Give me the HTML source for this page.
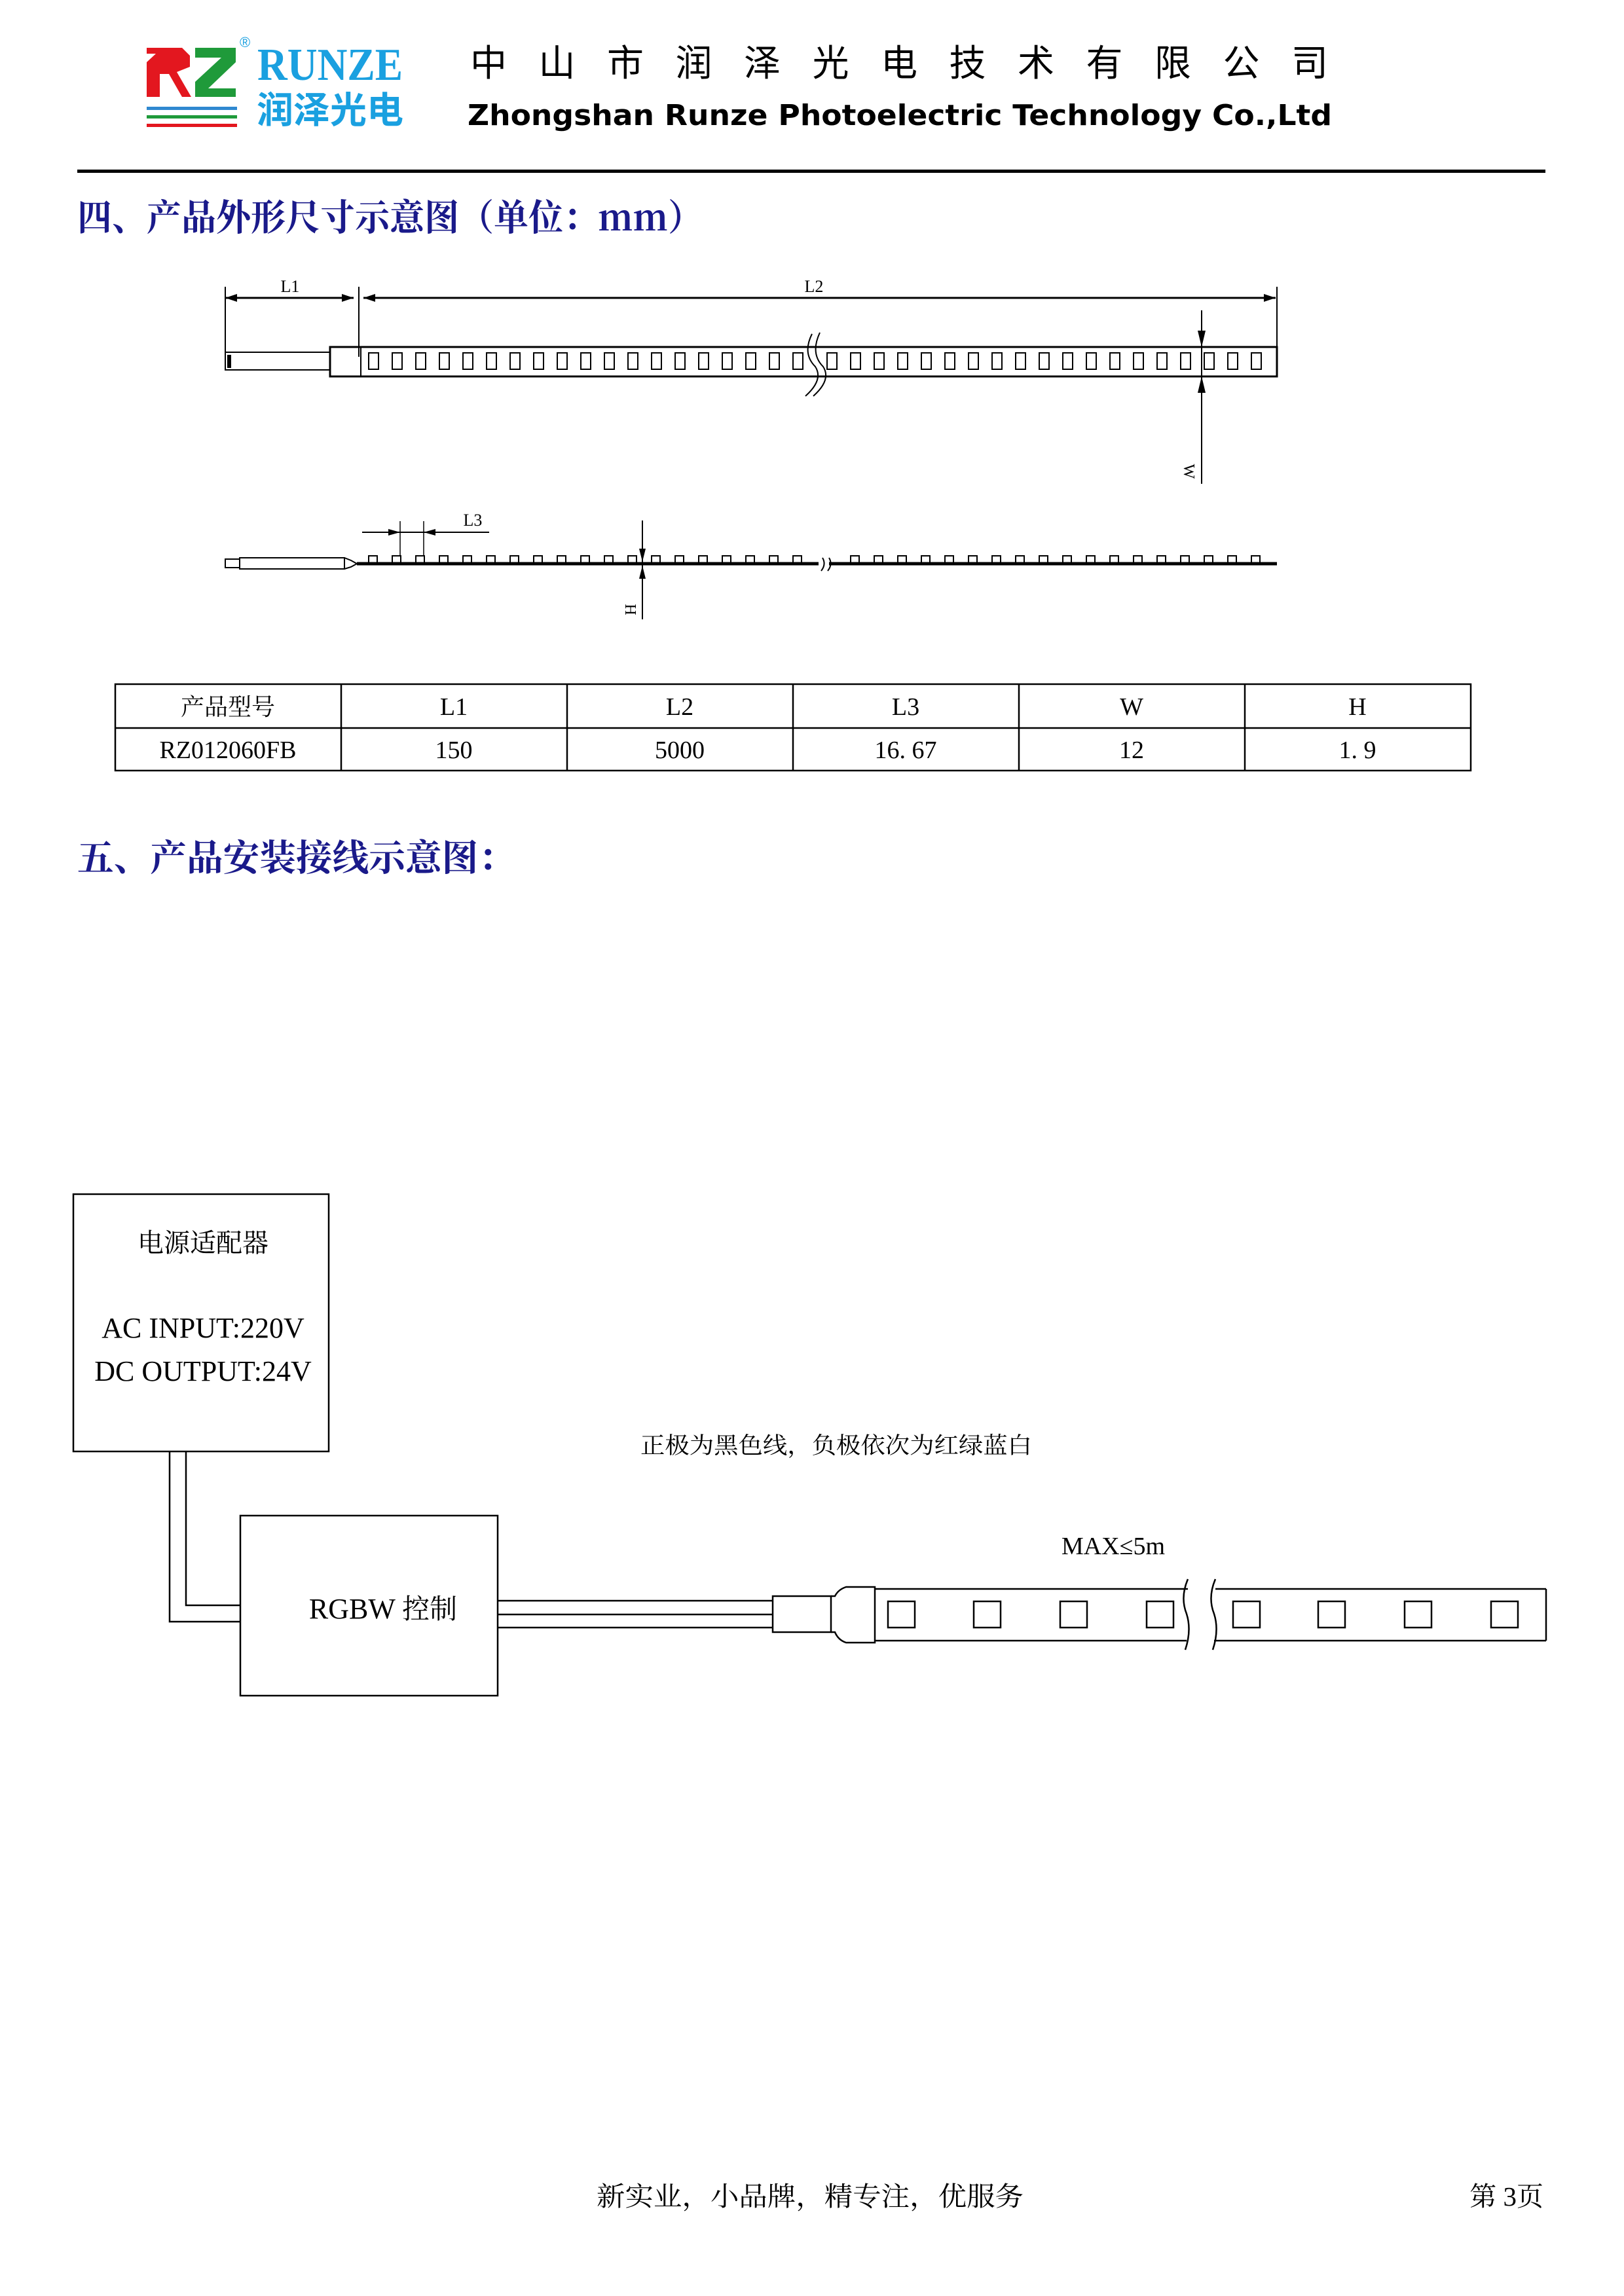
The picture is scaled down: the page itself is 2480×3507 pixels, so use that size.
<!DOCTYPE html>
<html><head><meta charset="utf-8"><style>
html,body{margin:0;padding:0;background:#fff;}
body{width:2480px;height:3507px;position:relative;overflow:hidden;}
svg{position:absolute;left:0;top:0;}
</style></head><body>
<svg width="2480" height="3507" viewBox="0 0 2480 3507" xmlns="http://www.w3.org/2000/svg">
<!-- Logo -->
<g>
 <polygon points="224,73 278,73 290,85 290,102 270,110 292,148 278,148 258,113 244,113 244,148 224,148 224,95 238,82 224,82" fill="#e3171f"/>
 <polygon points="298,73 360,73 360,95 318,135 360,135 360,148 298,148 298,125 338,88 298,88" fill="#1f9a3a"/>
 <rect x="224" y="163" width="138" height="5" fill="#2f88d0"/>
 <rect x="224" y="176" width="138" height="5" fill="#1f9a3a"/>
 <rect x="224" y="189" width="138" height="5" fill="#e3171f"/>
 <text x="366" y="72" font-family="Liberation Sans,sans-serif" font-size="22" fill="#1aa0e0">®</text>
 <text x="393" y="122" font-family="Liberation Serif,serif" font-weight="bold" font-size="70" fill="#1aa0e0" textLength="222" lengthAdjust="spacingAndGlyphs">RUNZE</text>
 <text x="392" y="188" font-family="Noto Sans CJK SC,sans-serif" font-weight="bold" font-size="56" fill="#1aa0e0" textLength="224" lengthAdjust="spacingAndGlyphs">润泽光电</text>
</g>
<text x="718" y="116" font-family="Noto Sans CJK SC,sans-serif" font-size="56" fill="#000" textLength="1310" lengthAdjust="spacing">中山市润泽光电技术有限公司</text>
<text x="714" y="191" font-family="DejaVu Sans,sans-serif" font-weight="bold" font-size="44" fill="#000" textLength="1320" lengthAdjust="spacingAndGlyphs">Zhongshan Runze Photoelectric Technology Co.,Ltd</text>
<rect x="118" y="259" width="2242" height="5" fill="#000"/>
<text x="118" y="352" font-family="Noto Serif CJK SC,serif" font-weight="bold" font-size="56" fill="#1a1a8a" textLength="955" lengthAdjust="spacingAndGlyphs">四、产品外形尺寸示意图（单位：mm）</text>

<!-- Dimension drawing: top view -->
<g stroke="#000" fill="none">
 <line x1="344" y1="438" x2="344" y2="545" stroke-width="2"/>
 <line x1="548" y1="438" x2="548" y2="545" stroke-width="2"/>
 <line x1="1950" y1="438" x2="1950" y2="530" stroke-width="2"/>
 <line x1="344" y1="455" x2="540" y2="455" stroke-width="3"/>
 <line x1="555" y1="455" x2="1948" y2="455" stroke-width="3"/>
 <rect x="344" y="538" width="160" height="27" stroke-width="2"/>
 <line x1="350" y1="542" x2="350" y2="562" stroke-width="6"/>
 <rect x="504" y="530" width="1446" height="45" stroke-width="3"/>
 <line x1="551" y1="530" x2="551" y2="575" stroke-width="2"/>
 <line x1="1835" y1="474" x2="1835" y2="739" stroke-width="2"/>
</g>
<g fill="#000">
 <polygon points="344,455 362,449 362,461"/><polygon points="540,455 522,449 522,461"/>
 <polygon points="555,455 573,449 573,461"/><polygon points="1948,455 1930,449 1930,461"/>
 <polygon points="1835,530 1829,505 1841,505"/><polygon points="1835,575 1829,600 1841,600"/>
</g>
<g fill="none" stroke="#000" stroke-width="2">
 <rect x="563" y="539" width="15" height="25"/><rect x="599" y="539" width="15" height="25"/><rect x="635" y="539" width="15" height="25"/><rect x="671" y="539" width="15" height="25"/><rect x="707" y="539" width="15" height="25"/><rect x="743" y="539" width="15" height="25"/><rect x="779" y="539" width="15" height="25"/><rect x="815" y="539" width="15" height="25"/><rect x="851" y="539" width="15" height="25"/><rect x="887" y="539" width="15" height="25"/><rect x="923" y="539" width="15" height="25"/><rect x="959" y="539" width="15" height="25"/><rect x="995" y="539" width="15" height="25"/><rect x="1031" y="539" width="15" height="25"/><rect x="1067" y="539" width="15" height="25"/><rect x="1103" y="539" width="15" height="25"/><rect x="1139" y="539" width="15" height="25"/><rect x="1175" y="539" width="15" height="25"/><rect x="1211" y="539" width="15" height="25"/><rect x="1263" y="539" width="15" height="25"/><rect x="1299" y="539" width="15" height="25"/><rect x="1335" y="539" width="15" height="25"/><rect x="1371" y="539" width="15" height="25"/><rect x="1407" y="539" width="15" height="25"/><rect x="1443" y="539" width="15" height="25"/><rect x="1479" y="539" width="15" height="25"/><rect x="1515" y="539" width="15" height="25"/><rect x="1551" y="539" width="15" height="25"/><rect x="1587" y="539" width="15" height="25"/><rect x="1623" y="539" width="15" height="25"/><rect x="1659" y="539" width="15" height="25"/><rect x="1695" y="539" width="15" height="25"/><rect x="1731" y="539" width="15" height="25"/><rect x="1767" y="539" width="15" height="25"/><rect x="1803" y="539" width="15" height="25"/><rect x="1839" y="539" width="15" height="25"/><rect x="1875" y="539" width="15" height="25"/><rect x="1911" y="539" width="15" height="25"/>
</g>
<path d="M1240,510 Q1225,540 1245,560 Q1258,580 1230,605 M1252,508 Q1237,540 1257,560 Q1270,580 1242,605" stroke="#000" stroke-width="2" fill="none"/>
<text x="443" y="446" font-family="Liberation Serif,serif" font-size="26" text-anchor="middle">L1</text>
<text x="1243" y="446" font-family="Liberation Serif,serif" font-size="26" text-anchor="middle">L2</text>
<text transform="translate(1808,720) rotate(90)" font-family="Liberation Serif,serif" font-size="24" text-anchor="middle">W</text>

<!-- side view -->
<g stroke="#000" fill="none">
 <rect x="344" y="854" width="22" height="13" stroke-width="2"/>
 <rect x="366" y="852" width="160" height="17" stroke-width="2"/>
 <path d="M526,852 L536,856 L545,861 L536,866 L526,869" stroke-width="2"/>
 <line x1="545" y1="861" x2="1950" y2="861" stroke-width="5"/>
 <line x1="553" y1="813" x2="747" y2="813" stroke-width="2"/>
 <line x1="611" y1="796" x2="611" y2="850" stroke-width="1.5"/>
 <line x1="647" y1="796" x2="647" y2="850" stroke-width="1.5"/>
 <line x1="981" y1="795" x2="981" y2="946" stroke-width="2"/>
</g>
<g fill="#000">
 <polygon points="611,813 593,808 593,818"/><polygon points="647,813 665,808 665,818"/>
 <polygon points="981,858 976,838 986,838"/><polygon points="981,864 976,884 986,884"/>
</g>
<g fill="none" stroke="#000" stroke-width="2">
 <rect x="563" y="849" width="13" height="12"/><rect x="599" y="849" width="13" height="12"/><rect x="635" y="849" width="13" height="12"/><rect x="671" y="849" width="13" height="12"/><rect x="707" y="849" width="13" height="12"/><rect x="743" y="849" width="13" height="12"/><rect x="779" y="849" width="13" height="12"/><rect x="815" y="849" width="13" height="12"/><rect x="851" y="849" width="13" height="12"/><rect x="887" y="849" width="13" height="12"/><rect x="923" y="849" width="13" height="12"/><rect x="959" y="849" width="13" height="12"/><rect x="995" y="849" width="13" height="12"/><rect x="1031" y="849" width="13" height="12"/><rect x="1067" y="849" width="13" height="12"/><rect x="1103" y="849" width="13" height="12"/><rect x="1139" y="849" width="13" height="12"/><rect x="1175" y="849" width="13" height="12"/><rect x="1211" y="849" width="13" height="12"/><rect x="1299" y="849" width="13" height="12"/><rect x="1335" y="849" width="13" height="12"/><rect x="1371" y="849" width="13" height="12"/><rect x="1407" y="849" width="13" height="12"/><rect x="1443" y="849" width="13" height="12"/><rect x="1479" y="849" width="13" height="12"/><rect x="1515" y="849" width="13" height="12"/><rect x="1551" y="849" width="13" height="12"/><rect x="1587" y="849" width="13" height="12"/><rect x="1623" y="849" width="13" height="12"/><rect x="1659" y="849" width="13" height="12"/><rect x="1695" y="849" width="13" height="12"/><rect x="1731" y="849" width="13" height="12"/><rect x="1767" y="849" width="13" height="12"/><rect x="1803" y="849" width="13" height="12"/><rect x="1839" y="849" width="13" height="12"/><rect x="1875" y="849" width="13" height="12"/><rect x="1911" y="849" width="13" height="12"/>
</g>
<rect x="1250" y="850" width="16" height="22" fill="#fff"/>
<path d="M1256,852 Q1262,862 1254,872 M1266,852 Q1272,862 1264,872" stroke="#000" stroke-width="2" fill="none"/>
<text x="722" y="803" font-family="Liberation Serif,serif" font-size="26" text-anchor="middle">L3</text>
<text transform="translate(955,931) rotate(90)" font-family="Liberation Serif,serif" font-size="24" text-anchor="middle">H</text>

<!-- Table -->
<g stroke="#000" stroke-width="2.5" fill="none">
 <rect x="176" y="1045" width="2070" height="132"/>
 <line x1="176" y1="1112" x2="2246" y2="1112"/>
 <line x1="521" y1="1045" x2="521" y2="1177"/><line x1="866" y1="1045" x2="866" y2="1177"/>
 <line x1="1211" y1="1045" x2="1211" y2="1177"/><line x1="1556" y1="1045" x2="1556" y2="1177"/>
 <line x1="1901" y1="1045" x2="1901" y2="1177"/>
</g>
<g font-family="Liberation Serif,'Noto Serif CJK SC',serif" font-size="38" text-anchor="middle" fill="#000">
 <text x="348" y="1092" font-family="Noto Serif CJK SC,serif" font-size="36">产品型号</text>
 <text x="693" y="1092">L1</text><text x="1038" y="1092">L2</text><text x="1383" y="1092">L3</text>
 <text x="1728" y="1092">W</text><text x="2073" y="1092">H</text>
 <text x="348" y="1158">RZ012060FB</text><text x="693" y="1158">150</text><text x="1038" y="1158">5000</text>
 <text x="1383" y="1158">16. 67</text><text x="1728" y="1158">12</text><text x="2073" y="1158">1. 9</text>
</g>

<text x="118" y="1330" font-family="Noto Serif CJK SC,serif" font-weight="bold" font-size="56" fill="#1a1a8a" textLength="668" lengthAdjust="spacingAndGlyphs">五、产品安装接线示意图：</text>

<!-- Wiring diagram -->
<g stroke="#000" stroke-width="2.5" fill="none">
 <rect x="112" y="1824" width="390" height="393"/>
 <rect x="367" y="2315" width="393" height="275"/>
 <polyline points="259,2217 259,2477 367,2477"/>
 <polyline points="284,2217 284,2452 367,2452"/>
 <line x1="760" y1="2445" x2="1180" y2="2445"/>
 <line x1="760" y1="2466" x2="1180" y2="2466"/>
 <line x1="760" y1="2486" x2="1180" y2="2486"/>
 <rect x="1180" y="2438" width="89" height="55"/>
 <path d="M1269,2438 L1275,2438 Q1280,2428 1292,2424 L1336,2424 L1336,2509 L1292,2509 Q1280,2505 1275,2493 L1269,2493"/>
 <line x1="1336" y1="2427" x2="1814" y2="2427"/>
 <line x1="1336" y1="2506" x2="1812" y2="2506"/>
 <line x1="1856" y1="2427" x2="2361" y2="2427"/>
 <line x1="1854" y1="2506" x2="2361" y2="2506"/>
 <line x1="2361" y1="2427" x2="2361" y2="2506"/>
 <path d="M1814,2412 Q1802,2440 1812,2465 Q1820,2490 1810,2520"/>
 <path d="M1856,2412 Q1844,2440 1854,2465 Q1862,2490 1852,2520"/>
 <rect x="1356" y="2446" width="41" height="40"/><rect x="1487" y="2446" width="41" height="40"/>
 <rect x="1619" y="2446" width="41" height="40"/><rect x="1751" y="2446" width="41" height="40"/>
 <rect x="1883" y="2446" width="41" height="40"/><rect x="2013" y="2446" width="41" height="40"/>
 <rect x="2145" y="2446" width="41" height="40"/><rect x="2277" y="2446" width="41" height="40"/>
</g>
<g font-family="Liberation Serif,'Noto Serif CJK SC',serif" fill="#000" text-anchor="middle">
 <text x="310" y="1912" font-family="Noto Serif CJK SC,serif" font-size="40">电源适配器</text>
 <text x="310" y="2043" font-size="44">AC INPUT:220V</text>
 <text x="310" y="2109" font-size="44">DC OUTPUT:24V</text>
 <text x="585" y="2472" font-size="44">RGBW <tspan font-family="Noto Serif CJK SC,serif" font-size="42">控制</tspan></text>
 <text x="1277" y="2220" font-family="Noto Serif CJK SC,serif" font-size="35" textLength="598" lengthAdjust="spacingAndGlyphs">正极为黑色线，负极依次为红绿蓝白</text>
 <text x="1700" y="2374" font-size="38">MAX≤5m</text>
</g>

<!-- Footer -->
<text x="1237" y="3369" font-family="Noto Serif CJK SC,serif" font-size="41" text-anchor="middle" textLength="652" lengthAdjust="spacingAndGlyphs">新实业，小品牌，精专注，优服务</text>
<text x="2357" y="3369" font-family="Liberation Serif,'Noto Serif CJK SC',serif" font-size="41" text-anchor="end">第 3页</text>
</svg>
</body></html>
